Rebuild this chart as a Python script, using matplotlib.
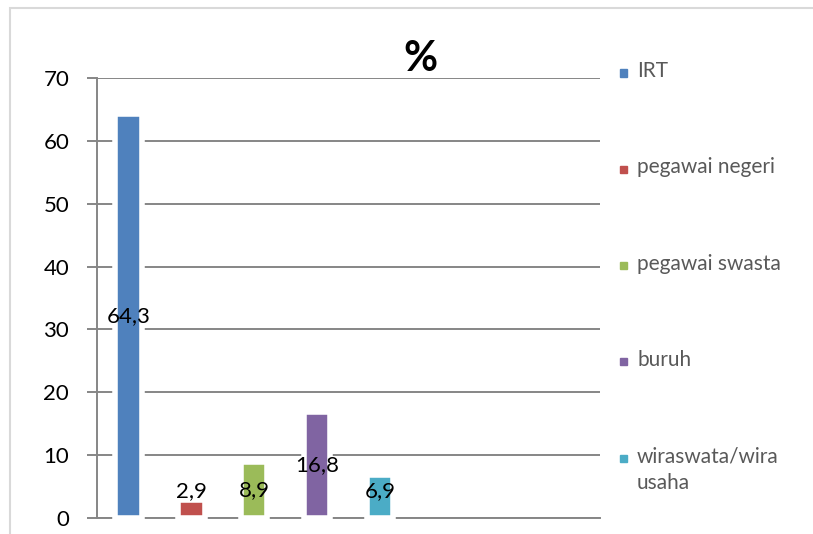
import matplotlib
matplotlib.use("Agg")
import matplotlib.pyplot as plt
from matplotlib.patches import Rectangle

plt.rcParams["font.family"] = ["Lato", "DejaVu Sans"]

# pekerjaan (%)
categories = ["IRT", "pegawai negeri", "pegawai swasta", "buruh", "wiraswata/wira\nusaha"]
values = [64.3, 2.9, 8.9, 16.8, 6.9]
colors = ["#4F81BD", "#C0504D", "#9BBB59", "#8064A2", "#4BACC6"]
yticks = [0, 10, 20, 30, 40, 50, 60, 70]
n_slots = 8

W, H = 813, 534
fig = plt.figure(figsize=(W / 100, H / 100), dpi=100)
ax = fig.add_axes([97 / W, 16 / H, 503 / W, 440 / H])

xs = list(range(len(values)))
ax.bar(xs, values, width=0.42, color=colors, edgecolor="white", linewidth=4,
       zorder=3, clip_on=False)

for x, v in zip(xs, values):
    lab = f"{v:.1f}".replace(".", ",")
    ax.text(x, max(v / 2, 4.3), lab, ha="center", va="center", fontsize=16,
            color="black", zorder=4)

ax.set_xlim(-0.5, n_slots - 0.5)
ax.set_ylim(0, 70)
ax.set_yticks(yticks)
ax.set_xticks([])
ax.yaxis.grid(True, color="#868686", lw=1.4)
ax.set_axisbelow(True)
for s in ["top", "right"]:
    ax.spines[s].set_visible(False)
ax.spines["left"].set_color("#868686")
ax.spines["left"].set_linewidth(1.4)
ax.spines["bottom"].set_color("#868686")
ax.spines["bottom"].set_linewidth(1.4)
ax.spines["bottom"].set_zorder(2)
ax.tick_params(axis="y", direction="out", length=7, width=1.4, color="#868686",
               labelsize=16, pad=13)

fig.text(420 / W, 1 - 59 / H, "%", ha="center", va="center", fontsize=30,
         fontweight="bold")

# legend on the right, one entry per category
for i, (cat, c) in enumerate(zip(categories, colors)):
    yc = 73 + i * 96.3
    fig.add_artist(Rectangle((620 / W, 1 - (yc + 3.5) / H), 7 / W, 7 / H,
                             transform=fig.transFigure, color=c))
    fig.text(637 / W, 1 - (yc - 12) / H, cat, ha="left", va="top", fontsize=15,
             color="#595959", linespacing=1.45)

# chart area border
fig.add_artist(Rectangle((10 / W, -0.1), 1.2, 1.1 - 8 / H, fill=False,
                         ec="#d9d9d9", lw=1.5, transform=fig.transFigure))

fig.savefig("out.png", dpi=100)
